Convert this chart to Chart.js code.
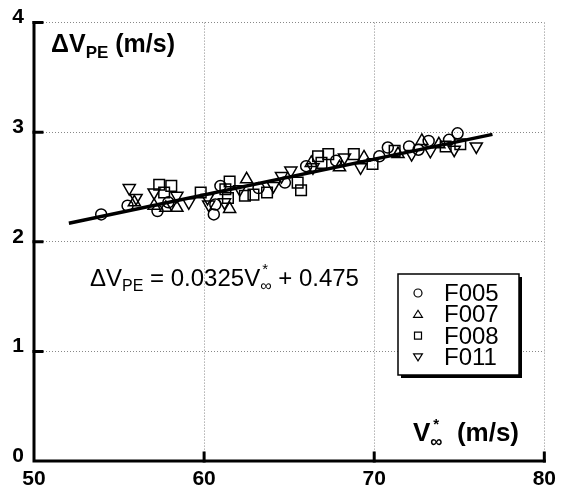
<!DOCTYPE html>
<html>
<head>
<meta charset="utf-8">
<script src="https://cdn.jsdelivr.net/npm/chart.js@4/dist/chart.umd.min.js"></script>
<style>
  html, body { margin: 0; padding: 0; background: #fff; }
</style>
</head>
<body>
<canvas id="chart" width="562" height="487"></canvas>
<script>
// series
const f005X = [53.95, 55.5, 57.26, 57.9, 60.57, 60.66, 60.96, 63.2, 64.75, 66.0, 67.76, 70.3, 70.8, 72.05, 72.6, 73.2, 74.4, 74.9];
const f005Y = [2.25, 2.33, 2.28, 2.36, 2.25, 2.34, 2.51, 2.49, 2.54, 2.69, 2.74, 2.78, 2.86, 2.87, 2.84, 2.92, 2.93, 2.99];

const f007X = [55.9, 57.06, 57.75, 58.4, 61.5, 62.5, 66.3, 67.96, 69.4, 71.4, 72.8, 73.8];
const f007Y = [2.36, 2.33, 2.31, 2.31, 2.30, 2.57, 2.72, 2.68, 2.77, 2.80, 2.92, 2.89];

const f008X = [57.36, 58.07, 57.65, 59.8, 61.5, 61.25, 61.4, 62.4, 62.9, 63.7, 65.5, 65.7, 66.7, 66.9, 67.3, 68.8, 69.9, 71.2, 74.2, 75.06];
const f008Y = [2.52, 2.51, 2.45, 2.45, 2.55, 2.48, 2.40, 2.42, 2.43, 2.45, 2.54, 2.47, 2.78, 2.72, 2.80, 2.80, 2.71, 2.83, 2.87, 2.89];

const f011X = [55.6, 56.0, 57.06, 58.4, 59.1, 60.2, 60.27, 61.2, 62.1, 64.07, 64.55, 65.1, 66.4, 68.25, 69.2, 72.2, 73.3, 74.7, 76.0];
const f011Y = [2.49, 2.40, 2.45, 2.42, 2.36, 2.40, 2.34, 2.36, 2.48, 2.51, 2.60, 2.65, 2.68, 2.77, 2.68, 2.80, 2.83, 2.84, 2.87];

const fitX = [52.05, 76.95];
const fitY = [2.17, 2.98];

const xTicks = [50, 60, 70, 80];
const yTicks = [0, 1, 2, 3, 4];
const seriesNames = ['F005', 'F007', 'F008', 'F011'];

const toPoints = (xs, ys) => xs.map((x, i) => ({ x: x, y: ys[i] }));

const markerStyles = [
  { pointStyle: 'circle', rotation: 0, radius: 5.5 },
  { pointStyle: 'triangle', rotation: 0, radius: 7 },
  { pointStyle: 'rect', rotation: 0, radius: 7.5 },
  { pointStyle: 'triangle', rotation: 180, radius: 7 }
];

function scatterSet(label, xs, ys, m) {
  return {
    label: label,
    data: toPoints(xs, ys),
    pointStyle: m.pointStyle,
    rotation: m.rotation,
    pointRadius: m.radius,
    pointBorderWidth: 1.5,
    pointBorderColor: '#000',
    pointBackgroundColor: 'rgba(0,0,0,0)',
    showLine: false
  };
}

// draws text pieces one after another, with sub/superscripts
function drawRuns(ctx, x, y, runs) {
  let cx = x;
  runs.forEach((r) => {
    if (r.stack) {
      let w = 0;
      r.stack.forEach((s) => {
        ctx.font = s.font;
        ctx.fillText(s.t, cx + (s.dx || 0), y + s.dy);
        w = Math.max(w, ctx.measureText(s.t).width + (s.dx || 0));
      });
      cx += w;
      return;
    }
    ctx.font = r.font;
    ctx.fillText(r.t, cx, y + (r.dy || 0));
    cx += ctx.measureText(r.t).width;
  });
}

function legendMarker(ctx, m, x, y, r) {
  ctx.beginPath();
  if (m.pointStyle === 'circle') {
    ctx.arc(x, y, r, 0, Math.PI * 2);
  } else if (m.pointStyle === 'rect') {
    ctx.rect(x - r, y - r, r * 2, r * 2);
  } else {
    const d = m.rotation === 180 ? -1 : 1;
    ctx.moveTo(x, y - d * r);
    ctx.lineTo(x + r * 1.1, y + d * r * 0.75);
    ctx.lineTo(x - r * 1.1, y + d * r * 0.75);
    ctx.closePath();
  }
  ctx.stroke();
}

const decorations = {
  id: 'decorations',
  afterDraw: function (chart) {
    const ctx = chart.ctx;
    const xs = chart.scales.x;
    const ys = chart.scales.y;
    const left = xs.left, right = xs.right, top = ys.top, bottom = ys.bottom;
    const sans = '"Liberation Sans", Arial, sans-serif';

    ctx.save();
    ctx.strokeStyle = '#000';
    ctx.fillStyle = '#000';
    ctx.lineCap = 'square';

    // axes
    ctx.lineWidth = 3;
    ctx.beginPath();
    ctx.moveTo(left, top);
    ctx.lineTo(left, bottom);
    ctx.lineTo(right, bottom);
    ctx.stroke();

    // inward ticks
    ctx.beginPath();
    yTicks.slice(1).forEach((v) => {
      const p = ys.getPixelForValue(v);
      ctx.moveTo(left, p);
      ctx.lineTo(left + 8, p);
    });
    xTicks.slice(1).forEach((v) => {
      const p = xs.getPixelForValue(v);
      ctx.moveTo(p, bottom);
      ctx.lineTo(p, bottom - 8);
    });
    ctx.stroke();

    ctx.textBaseline = 'alphabetic';
    ctx.textAlign = 'left';

    // y title
    drawRuns(ctx, 51, 52, [
      { t: '\u0394V', font: 'bold 25px ' + sans },
      { t: 'PE', font: 'bold 17px ' + sans, dy: 6 },
      { t: ' (m/s)', font: 'bold 25px ' + sans }
    ]);

    // x title
    drawRuns(ctx, 413, 441, [
      { t: 'V', font: 'bold 26px ' + sans },
      { stack: [
        { t: '*', font: 'bold 15px ' + sans, dy: -12, dx: 3 },
        { t: '\u221E', font: 'bold 17px ' + sans, dy: 6 }
      ] },
      { t: '  (m/s)', font: 'bold 26px ' + sans }
    ]);

    // fit equation
    drawRuns(ctx, 90, 286, [
      { t: '\u0394V', font: '24px ' + sans },
      { t: 'PE', font: '16px ' + sans, dy: 5 },
      { t: ' = 0.0325V', font: '24px ' + sans },
      { stack: [
        { t: '*', font: '15px ' + sans, dy: -12, dx: 2 },
        { t: '\u221E', font: '16px ' + sans, dy: 5 }
      ] },
      { t: ' + 0.475', font: '24px ' + sans }
    ]);

    // legend box with shadow
    const bx = 398, by = 274, bw = 121, bh = 101;
    ctx.fillStyle = '#000';
    ctx.fillRect(bx + 3, by + 3, bw, bh);
    ctx.fillStyle = '#fff';
    ctx.fillRect(bx, by, bw, bh);
    ctx.lineWidth = 1.5;
    ctx.strokeRect(bx, by, bw, bh);

    ctx.fillStyle = '#000';
    ctx.lineWidth = 1.2;
    ctx.font = '24px ' + sans;
    seriesNames.forEach((name, i) => {
      const cy = 293 + i * 21.3;
      legendMarker(ctx, markerStyles[i], 418, cy, i === 2 ? 3.5 : 4);
      ctx.fillText(name, 444, cy + 8);
    });

    ctx.restore();
  }
};

const gridColor = '#888';

new Chart(document.getElementById('chart'), {
  type: 'scatter',
  data: {
    datasets: [
      scatterSet(seriesNames[0], f005X, f005Y, markerStyles[0]),
      scatterSet(seriesNames[1], f007X, f007Y, markerStyles[1]),
      scatterSet(seriesNames[2], f008X, f008Y, markerStyles[2]),
      scatterSet(seriesNames[3], f011X, f011Y, markerStyles[3]),
      {
        label: 'fit',
        data: toPoints(fitX, fitY),
        showLine: true,
        borderColor: '#000',
        borderWidth: 3.5,
        pointRadius: 0
      }
    ]
  },
  options: {
    responsive: false,
    animation: false,
    devicePixelRatio: 1,
    layout: { padding: { top: 21, right: 14, left: 0, bottom: 0 } },
    plugins: {
      legend: { display: false },
      tooltip: { enabled: false }
    },
    scales: {
      x: {
        type: 'linear',
        min: 50,
        max: 80,
        afterBuildTicks: (s) => { s.ticks = xTicks.map((v) => ({ value: v })); },
        afterFit: (s) => { s.height = 26; },
        ticks: {
          color: '#000',
          padding: 6,
          maxRotation: 0,
          font: { family: 'Liberation Sans', size: 21, weight: 'bold' }
        },
        grid: { color: gridColor, lineWidth: 1, drawTicks: false },
        border: { display: false, dash: [1, 2] }
      },
      y: {
        min: 0,
        max: 4,
        afterBuildTicks: (s) => { s.ticks = yTicks.map((v) => ({ value: v })); },
        afterFit: (s) => { s.width = 34; },
        ticks: {
          color: '#000',
          padding: 10,
          labelOffset: -5,
          font: { family: 'Liberation Sans', size: 21, weight: 'bold' }
        },
        grid: { color: gridColor, lineWidth: 1, drawTicks: false },
        border: { display: false, dash: [1, 2] }
      }
    }
  },
  plugins: [decorations]
});
</script>
</body>
</html>
